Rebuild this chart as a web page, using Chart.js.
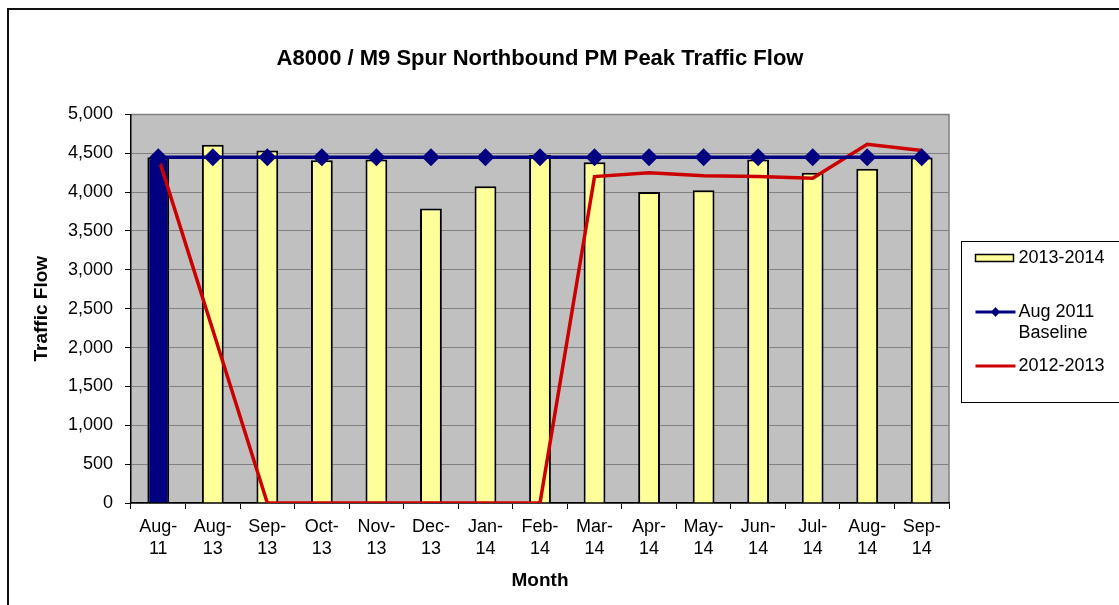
<!DOCTYPE html>
<html>
<head>
<meta charset="utf-8">
<title>A8000 / M9 Spur Northbound PM Peak Traffic Flow</title>
<script src="https://cdn.jsdelivr.net/npm/chart.js@4/dist/chart.umd.min.js"></script>
<style>
  body { margin: 0; background: #fff; }
  #wrap { position: relative; width: 1119px; height: 605px; }
  #frame {
    position: absolute; left: 7px; top: 8px; right: 0; bottom: 0;
    border-top: 2px solid #111; border-left: 2px solid #111;
    pointer-events: none;
  }
</style>
</head>
<body>
<div id="wrap">
  <canvas id="traffic-flow-chart"></canvas>
  <div id="frame"></div>
</div>
<script>
// Chart data
let monthLabels = [["Aug-", "11"], ["Aug-", "13"], ["Sep-", "13"], ["Oct-", "13"], ["Nov-", "13"],
  ["Dec-", "13"], ["Jan-", "14"], ["Feb-", "14"], ["Mar-", "14"], ["Apr-", "14"], ["May-", "14"],
  ["Jun-", "14"], ["Jul-", "14"], ["Aug-", "14"], ["Sep-", "14"]];
let flow2013Values = [4450, 4610, 4535, 4410, 4420, 3790, 4075, 4480, 4385, 4000, 4025, 4420, 4250, 4300, 4445];
let baselineValues = [4450, 4450, 4450, 4450, 4450, 4450, 4450, 4450, 4450, 4450, 4450, 4450, 4450, 4450, 4450];
let flow2012Values = [4450, 2225, 0, 0, 0, 0, 0, 0, 4200, 4250, 4210, 4200, 4180, 4615, 4535];
let yTickStep = 500;
let yMax = 5000;

let yellowBar = "#FFFF99";
let navyColor = "#000080";
let redColor = "#CC0000";
let barColors = flow2013Values.map((v, i) => (i === 0 ? navyColor : yellowBar));

Chart.defaults.font.family = "'Liberation Sans', Arial, sans-serif";
Chart.defaults.color = "#000";

// grey plot area like the old excel charts
const plotBackground = {
  id: "plotBackground",
  beforeDraw: (chart) => {
    const {ctx, chartArea} = chart;
    ctx.save();
    ctx.fillStyle = "#C0C0C0";
    ctx.fillRect(chartArea.left, chartArea.top, chartArea.width, chartArea.height);
    ctx.strokeStyle = "#808080";
    ctx.lineWidth = 1.5;
    ctx.beginPath();
    ctx.moveTo(chartArea.left, chartArea.top);
    ctx.lineTo(chartArea.right, chartArea.top);
    ctx.lineTo(chartArea.right, chartArea.bottom);
    ctx.stroke();
    ctx.restore();
  }
};

// legend box on the right, with wrapped labels
const sideLegend = {
  id: "sideLegend",
  afterDraw: (chart) => {
    const {ctx, chartArea} = chart;
    let boxLeft = chartArea.right + 12.5;
    let symLeft = boxLeft + 14;
    let textLeft = symLeft + 43;
    let maxTextWidth = chart.width - textLeft - 4;
    ctx.save();
    ctx.strokeStyle = "#000";
    ctx.lineWidth = 1;
    ctx.strokeRect(boxLeft, 241.5, 200, 161);
    ctx.font = "18px 'Liberation Sans', Arial, sans-serif";
    ctx.textBaseline = "middle";
    ctx.fillStyle = "#000";

    let y = 258;
    chart.data.datasets.forEach((ds) => {
      if (ds.type === "bar") {
        ctx.fillStyle = yellowBar;
        ctx.fillRect(symLeft, y - 3.5, 38, 7);
        ctx.strokeStyle = "#000";
        ctx.lineWidth = 1.5;
        ctx.strokeRect(symLeft, y - 3.5, 38, 7);
      } else {
        ctx.strokeStyle = ds.borderColor;
        ctx.lineWidth = 3;
        ctx.beginPath();
        ctx.moveTo(symLeft, y);
        ctx.lineTo(symLeft + 40, y);
        ctx.stroke();
        if (ds.pointRadius > 0) {
          let cx = symLeft + 20;
          ctx.fillStyle = ds.borderColor;
          ctx.beginPath();
          ctx.moveTo(cx, y - 5);
          ctx.lineTo(cx + 4.5, y);
          ctx.lineTo(cx, y + 5);
          ctx.lineTo(cx - 4.5, y);
          ctx.closePath();
          ctx.fill();
        }
      }
      // simple word wrap
      let words = ds.label.split(" ");
      let lines = [];
      let current = "";
      words.forEach((w) => {
        let test = current ? current + " " + w : w;
        if (ctx.measureText(test).width > maxTextWidth && current) {
          lines.push(current);
          current = w;
        } else {
          current = test;
        }
      });
      lines.push(current);
      ctx.fillStyle = "#000";
      lines.forEach((line, i) => {
        ctx.fillText(line, textLeft, y + i * 21);
      });
      y += 54;
    });
    ctx.restore();
  }
};

let trafficChart = document.getElementById("traffic-flow-chart");

new Chart(trafficChart, {
  data: {
    labels: monthLabels,
    datasets: [
      {
        type: "bar",
        label: "2013-2014",
        data: flow2013Values,
        backgroundColor: barColors,
        borderColor: "#000",
        borderWidth: 2,
        barPercentage: 0.4,
        categoryPercentage: 1,
        order: 3,
      },
      {
        type: "line",
        label: "Aug 2011 Baseline",
        data: baselineValues,
        borderColor: navyColor,
        backgroundColor: navyColor,
        borderWidth: 3.5,
        pointStyle: "rectRot",
        pointRadius: 9,
        pointBorderWidth: 0,
        tension: 0,
        order: 1,
      },
      {
        type: "line",
        label: "2012-2013",
        data: flow2012Values,
        borderColor: redColor,
        backgroundColor: redColor,
        borderWidth: 3.5,
        pointRadius: 0,
        tension: 0,
        order: 2,
      }
    ],
  },

  plugins: [plotBackground, sideLegend],

  options: {
    responsive: true,
    maintainAspectRatio: false,
    animation: false,
    locale: "en-US",
    layout: {
      padding: {left: 0, top: 0, right: 170, bottom: 0},
    },
    scales: {
      x: {
        offset: true,
        afterFit: (scale) => { scale.height = 102; },
        border: {color: "#000", width: 1.5},
        grid: {
          drawOnChartArea: false,
          tickLength: 6,
          tickColor: "#000",
        },
        ticks: {
          autoSkip: false,
          maxRotation: 0,
          padding: 7,
          font: {size: 18, lineHeight: 1.22},
        },
        title: {
          display: true,
          text: "Month",
          font: {size: 19, weight: "bold"},
          padding: {top: 0, bottom: 13},
        },
      },
      y: {
        min: 0,
        max: yMax,
        afterFit: (scale) => { scale.width = 131; },
        border: {color: "#000", width: 1.5},
        grid: {
          color: "#808080",
          lineWidth: 1,
          tickLength: 6,
          tickColor: "#000",
        },
        ticks: {
          stepSize: yTickStep,
          padding: 12,
          font: {size: 18},
        },
        title: {
          display: true,
          text: "Traffic Flow",
          font: {size: 19, weight: "bold"},
          padding: {top: 30, bottom: 0},
        },
      },
    },
    plugins: {
      legend: {display: false},
      tooltip: {enabled: false},
      title: {
        display: true,
        fullSize: false,
        text: "A8000 / M9 Spur Northbound PM Peak Traffic Flow",
        color: "#000",
        font: {size: 22, weight: "bold"},
        padding: {top: 46, bottom: 42},
      },
    },
  },
});
</script>
</body>
</html>
